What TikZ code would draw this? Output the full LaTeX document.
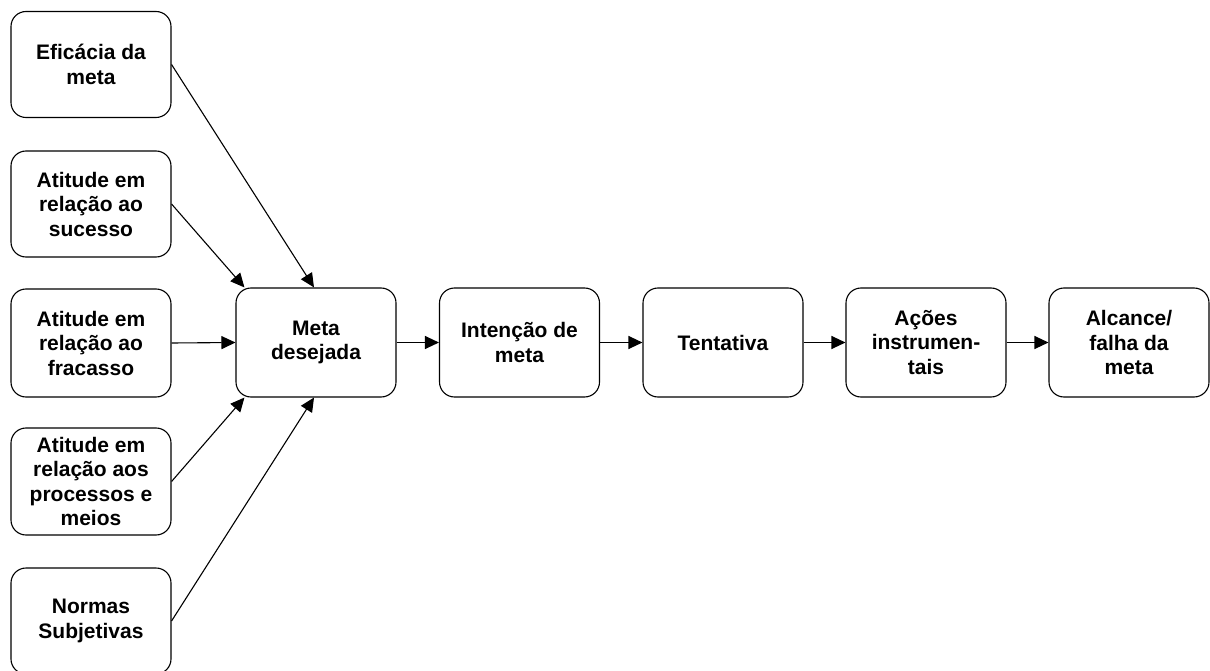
\documentclass[tikz,border=0pt]{standalone}
\usepackage{fontspec}
\setmainfont{Liberation Sans}
\usetikzlibrary{arrows.meta,calc}

\tikzset{
  box/.style={draw=black, line width=1.1pt, rounded corners=15pt,
    minimum width=160pt, minimum height=106pt, inner sep=2pt,
    align=center, font=\fontsize{21}{24.5}\selectfont\bfseries},
  flow/.style={draw=black, line width=1.1pt,
    -{Triangle[length=14pt,width=13pt]}}
}

\begin{document}
\begin{tikzpicture}[x=1pt, y=-1pt]
  \useasboundingbox (0,0) rectangle (1210,671);

  % input factors (left column)
  \node[box] (efic) at (91,64.5)  {Eficácia da\\meta};
  \node[box] (suc)  at (91,204)   {Atitude em\\relação ao\\sucesso};
  \node[box, minimum height=108pt] (frac) at (91,343) {Atitude em\\relação ao\\fracasso};
  \node[box, minimum height=107pt] (proc) at (91,481.5) {Atitude em\\relação aos\\processos e\\meios};
  \node[box] (norm) at (91,621)   {Normas\\Subjetivas};

  % main chain
  \node[box, minimum height=109pt] (meta) at (316,342.5)   {Meta\\desejada};
  \node[box, minimum height=109pt] (inten) at (519.5,342.5) {Intenção de\\meta};
  \node[box, minimum height=109pt] (tent) at (723,342.5)   {Tentativa};
  \node[box, minimum height=109pt] (acoes) at (926,342.5)  {Ações\\instrumen-\\tais};
  \node[box, minimum height=109pt] (alc) at (1129,342.5)   {Alcance/\\falha da\\meta};

  % entry points on the target box
  \coordinate (tl) at ($(meta.north west)+(9,0)$);
  \coordinate (tc) at ($(meta.north)+(-2,0)$);
  \coordinate (bl) at ($(meta.south west)+(9,0)$);
  \coordinate (bc) at ($(meta.south)+(-2,0)$);

  \draw[flow] (efic.east) -- (tc);
  \draw[flow] (suc.east)  -- (tl);
  \draw[flow] (frac.east) -- (meta.west);
  \draw[flow] (proc.east) -- (bl);
  \draw[flow] (norm.east) -- (bc);

  \draw[flow] (meta.east)  -- (inten.west);
  \draw[flow] (inten.east) -- (tent.west);
  \draw[flow] (tent.east)  -- (acoes.west);
  \draw[flow] (acoes.east) -- (alc.west);
\end{tikzpicture}
\end{document}
